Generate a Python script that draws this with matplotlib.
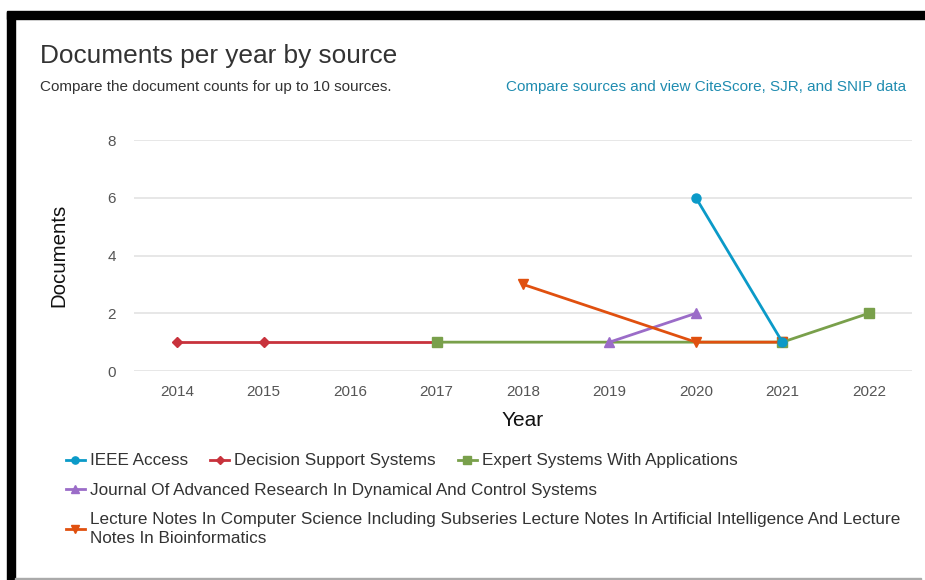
import matplotlib.pyplot as plt
from matplotlib.patches import Rectangle

plt.rcParams['font.family'] = ['Liberation Sans', 'DejaVu Sans']

# data
ieee_years = [2020, 2021]
ieee_docs = [6, 1]
dss_years = [2014, 2015, 2017]
dss_docs = [1, 1, 1]
esa_years = [2017, 2021, 2022]
esa_docs = [1, 1, 2]
jard_years = [2019, 2020]
jard_docs = [1, 2]
lncs_years = [2018, 2020, 2021]
lncs_docs = [3, 1, 1]

year_ticks = list(range(2014, 2023))
doc_ticks = [0, 2, 4, 6, 8]

names = ['IEEE Access', 'Decision Support Systems', 'Expert Systems With Applications',
         'Journal Of Advanced Research In Dynamical And Control Systems',
         'Lecture Notes In Computer Science Including Subseries Lecture Notes In Artificial Intelligence And Lecture\nNotes In Bioinformatics']

fig = plt.figure(figsize=(9.25, 5.8), dpi=100)
ax = fig.add_axes([0.1449, 0.3603, 0.8411, 0.3983])

lw = 2.0
ms = 6.5
l_dss, = ax.plot(dss_years, dss_docs, color='#c8323c', marker='D', markersize=5, lw=lw, zorder=3)
l_esa, = ax.plot(esa_years, esa_docs, color='#79a04b', marker='s', markersize=ms, lw=lw, zorder=4)
l_jard, = ax.plot(jard_years, jard_docs, color='#9b6cc8', marker='^', markersize=ms, lw=lw, zorder=5)
l_lncs, = ax.plot(lncs_years, lncs_docs, color='#e0500f', marker='v', markersize=ms, lw=lw, zorder=6)
l_ieee, = ax.plot(ieee_years, ieee_docs, color='#0b9ac8', marker='o', markersize=ms, lw=lw, zorder=7)

ax.set_xlim(2013.5, 2022.5)
ax.set_ylim(0, 8)
ax.set_xticks(year_ticks)
ax.set_yticks(doc_ticks)
ax.tick_params(axis='both', length=0, labelsize=11, labelcolor='#555555')
ax.tick_params(axis='x', pad=10)
ax.tick_params(axis='y', pad=13)
ax.grid(axis='y', color='#e3e3e3', lw=1.2)
for s in ax.spines.values():
    s.set_visible(False)
ax.set_axisbelow(True)
for l in ax.lines:
    l.set_clip_on(False)

ax.set_xlabel('Year', fontsize=15, color='#111111', labelpad=9)
ax.set_ylabel('Documents', fontsize=14.7, color='#111111', labelpad=28)

fig.text(0.043, 0.903, 'Documents per year by source', fontsize=18.9, color='#333333', va='center')
fig.text(0.043, 0.85, 'Compare the document counts for up to 10 sources.', fontsize=11,
         color='#333333', va='center')
fig.text(0.98, 0.85, 'Compare sources and view CiteScore, SJR, and SNIP data', fontsize=11,
         color='#1f8cb0', va='center', ha='right')

leg_kw = dict(frameon=False, fontsize=12.3, handlelength=1.1, handletextpad=0.3,
              borderaxespad=0, borderpad=0, labelcolor='#333333', markerscale=0.8)
leg1 = fig.legend([l_ieee, l_dss, l_esa], names[:3], ncol=3, loc='center left',
                  bbox_to_anchor=(0.0713, 0.2052), columnspacing=1.3, **leg_kw)
leg2 = fig.legend([l_jard], names[3:4], loc='center left',
                  bbox_to_anchor=(0.0713, 0.155), **leg_kw)
leg3 = fig.legend([l_lncs], names[4:5], loc='center left',
                  bbox_to_anchor=(0.0713, 0.088), **leg_kw)
for t in leg3.get_texts():
    t.set_linespacing(1.3)

# black frame around the screenshot
fig.patches.append(Rectangle((0.0076, 0.967), 0.9924, 0.014, transform=fig.transFigure,
                             color='black', zorder=10))
fig.patches.append(Rectangle((0.0076, 0.0), 0.0086, 0.98, transform=fig.transFigure,
                             color='black', zorder=10))
fig.patches.append(Rectangle((0.0162, 0.0), 0.98, 0.004, transform=fig.transFigure,
                             color='#aaaaaa', zorder=10))

fig.savefig('out.png', dpi=100)
